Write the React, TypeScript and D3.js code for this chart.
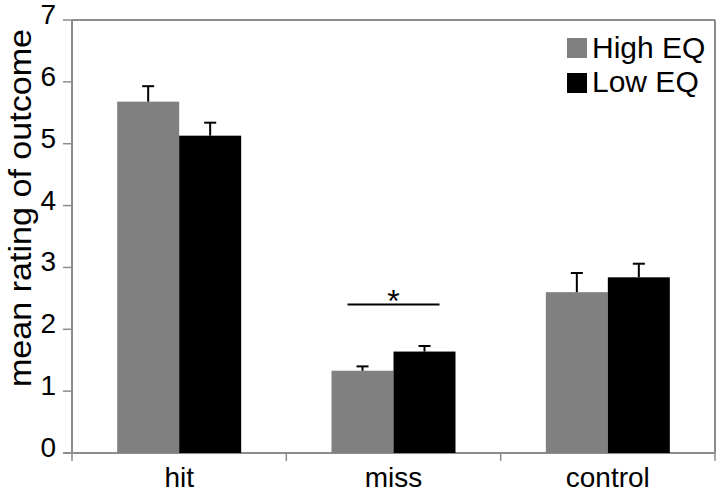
import React from "react";
import * as d3 from "d3";

const categories = ["hit", "miss", "control"];
const seriesNames = ["High EQ", "Low EQ"];
const highEQ = [5.68, 1.33, 2.6];
const lowEQ = [5.13, 1.64, 2.84];
const highErr = [0.25, 0.07, 0.31];
const lowErr = [0.21, 0.09, 0.22];
const yTicks = [0, 1, 2, 3, 4, 5, 6, 7];
const sigLevel = 2.4;
const sigLabel = "*";
const yLabel = "mean rating of outcome";

const W = 720;
const H = 492;
const M = { left: 72, right: 5, top: 20, bottom: 39 };
const colors = ["#808080", "#000000"];
const FONT = "'Liberation Sans', Arial, sans-serif";

export default function App() {
  const x0 = d3
    .scaleBand<string>()
    .domain(categories)
    .range([M.left, W - M.right])
    .paddingInner(0)
    .paddingOuter(0);
  const x1 = d3
    .scaleBand<string>()
    .domain(seriesNames)
    .range([0, 124]);
  const y = d3.scaleLinear().domain([0, 7]).range([H - M.bottom, M.top]);
  const values = [highEQ, lowEQ];
  const errs = [highErr, lowErr];
  const axisColor = "#8c8c8c";
  const bottom = H - M.bottom;
  const right = W - M.right;

  return (
    <svg
      width={W}
      height={H}
      style={{ position: "absolute", left: 0, top: 0, background: "#fff" }}
      fontFamily={FONT}
    >
      <rect x={0} y={0} width={W} height={H} fill="#fff" />
      {/* frame */}
      <line x1={M.left} x2={right} y1={M.top} y2={M.top} stroke={axisColor} strokeWidth={2} />
      <line x1={right} x2={right} y1={M.top} y2={bottom} stroke={axisColor} strokeWidth={2} />
      <line x1={M.left} x2={M.left} y1={M.top} y2={bottom} stroke={axisColor} strokeWidth={2} />
      <line x1={M.left - 9} x2={right} y1={bottom} y2={bottom} stroke={axisColor} strokeWidth={2} />
      {/* y ticks */}
      {yTicks.map((t) => (
        <g key={t}>
          <line x1={M.left - 9} x2={M.left} y1={y(t)} y2={y(t)} stroke={axisColor} strokeWidth={1.5} />
          <text x={56} y={y(t) + 4} textAnchor="end" fontSize={28} fill="#000">
            {t}
          </text>
        </g>
      ))}
      {/* x ticks */}
      {[...categories.map((c) => x0(c)!), right].map((xv, i) => (
        <line key={i} x1={xv} x2={xv} y1={bottom} y2={bottom + 8} stroke={axisColor} strokeWidth={1.5} />
      ))}
      {categories.map((c) => (
        <text
          key={c}
          x={x0(c)! + x0.bandwidth() / 2}
          y={487}
          textAnchor="middle"
          fontSize={28}
          fill="#000"
        >
          {c}
        </text>
      ))}
      {/* bars */}
      {categories.map((c, ci) => {
        const gx = x0(c)! + x0.bandwidth() / 2 - 62;
        return (
          <g key={c}>
            {seriesNames.map((s, si) => {
              const v = values[si][ci];
              const e = errs[si][ci];
              const bx = gx + x1(s)!;
              const cx = bx + x1.bandwidth() / 2;
              return (
                <g key={s}>
                  <rect x={bx} y={y(v)} width={x1.bandwidth()} height={bottom - y(v)} fill={colors[si]} />
                  <line x1={cx} x2={cx} y1={y(v)} y2={y(v + e)} stroke="#000" strokeWidth={2} />
                  <line x1={cx - 6} x2={cx + 6} y1={y(v + e)} y2={y(v + e)} stroke="#000" strokeWidth={2} />
                </g>
              );
            })}
          </g>
        );
      })}
      {/* significance */}
      {(() => {
        const c = x0("miss")! + x0.bandwidth() / 2;
        return (
          <g>
            <line x1={c - 46} x2={c + 46} y1={y(sigLevel)} y2={y(sigLevel)} stroke="#000" strokeWidth={2} />
            <text x={c} y={y(sigLevel) + 7} textAnchor="middle" fontSize={32} fill="#000">
              {sigLabel}
            </text>
          </g>
        );
      })()}
      {/* legend */}
      {seriesNames.map((s, i) => (
        <g key={s}>
          <rect x={567} y={38 + i * 35} width={20} height={20} fill={colors[i]} />
          <text x={592} y={58 + i * 34} fontSize={30} fill="#000">
            {s}
          </text>
        </g>
      ))}
      {/* y label */}
      <text
        transform={`translate(31, 208) rotate(-90) scale(1.1, 1)`}
        textAnchor="middle"
        fontSize={31}
        fill="#000"
      >
        {yLabel}
      </text>
    </svg>
  );
}
